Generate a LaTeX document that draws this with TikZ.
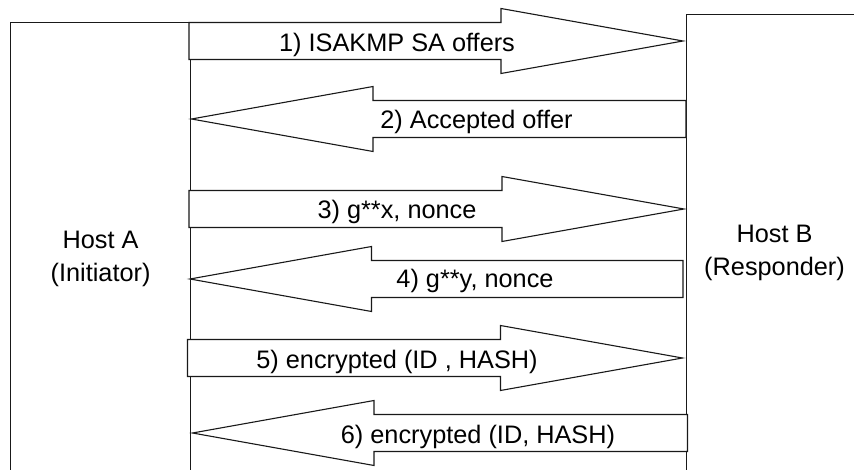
\documentclass[tikz,border=0pt]{standalone}
\usepackage{fontspec}
\setmainfont{Liberation Sans}
\usetikzlibrary{calc}

% block arrow pointing right: #1 tail point, #2 tip point
\newcommand\fwdblock[2]{%
  \draw[blockline] ($(#1)+(0,-18.5)$) -- ($(#2)+(-182,-18.5)$) -- ($(#2)+(-182,-32.5)$)
    -- (#2) -- ($(#2)+(-182,32.5)$) -- ($(#2)+(-182,18.5)$) -- ($(#1)+(0,18.5)$) -- cycle;}
% block arrow pointing left: #1 tail point, #2 tip point
\newcommand\backblock[2]{%
  \draw[blockline] ($(#1)+(0,-18.5)$) -- ($(#2)+(181.5,-18.5)$) -- ($(#2)+(181.5,-32.5)$)
    -- (#2) -- ($(#2)+(181.5,32.5)$) -- ($(#2)+(181.5,18.5)$) -- ($(#1)+(0,18.5)$) -- cycle;}

\begin{document}
\begin{tikzpicture}[x=1pt, y=-1pt,
  every node/.style={font=\fontsize{25.3}{33}\selectfont},
  host/.style={draw=black!90, line width=1.1pt, fill=white, anchor=north west,
    align=center, inner sep=0pt},
  blockline/.style={draw=black!90, line width=1.1pt, line join=miter, fill=white},
  msg/.style={anchor=base, inner sep=0pt}]
  \useasboundingbox (0,0) rectangle (854,470);
  \clip (0,0) rectangle (854,470);

  % the two hosts (both run past the lower edge)
  \node[host, minimum width=180pt, minimum height=472pt] (hostA) at (10,22)
    {Host A\\(Initiator)};
  \node[host, minimum width=176pt, minimum height=476pt] (hostB) at (686,14)
    {Host B\\(Responder)};

  % end points of the six messages
  \coordinate (a1) at (189,41);    \coordinate (b1) at (683,41);
  \coordinate (b2) at (686,119);   \coordinate (a2) at (191.5,119);
  \coordinate (a3) at (189,209);   \coordinate (b3) at (684,209);
  \coordinate (b4) at (683,279);   \coordinate (a4) at (190,279);
  \coordinate (a5) at (187.5,358); \coordinate (b5) at (682.5,358);
  \coordinate (b6) at (687.5,433); \coordinate (a6) at (192.5,433);

  \fwdblock{a1}{b1}
  \backblock{b2}{a2}
  \fwdblock{a3}{b3}
  \backblock{b4}{a4}
  \fwdblock{a5}{b5}
  \backblock{b6}{a6}

  % message labels
  \node[msg] (m1) at (397,51.5)  {1) ISAKMP SA offers};
  \node[msg] (m2) at (476.5,128.3) {2) Accepted offer};
  \node[msg] (m3) at (397,219)   {3) g**x, nonce};
  \node[msg] (m4) at (475,287.5) {4) g**y, nonce};
  \node[msg] (m5) at (397,368)   {5) encrypted (ID , HASH)};
  \node[msg] (m6) at (478,443)   {6) encrypted (ID, HASH)};
\end{tikzpicture}
\end{document}
